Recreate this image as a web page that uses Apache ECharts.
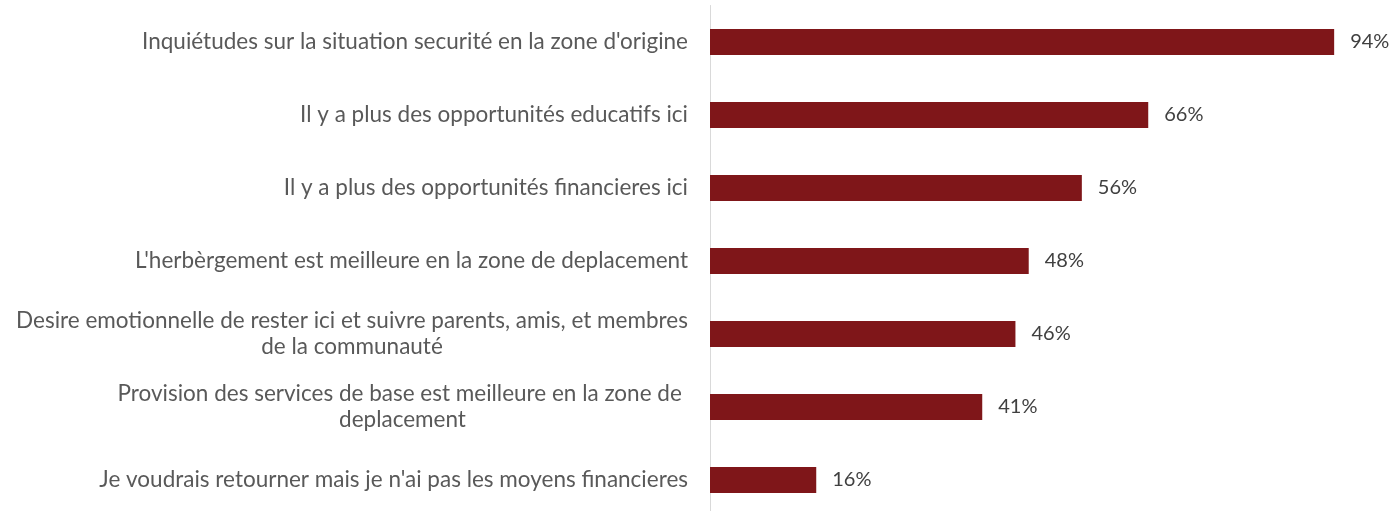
<!DOCTYPE html>
<html>
<head>
<meta charset="utf-8">
<script src="https://cdn.jsdelivr.net/npm/echarts@6/dist/echarts.min.js"></script>
<style>
  html, body { margin: 0; padding: 0; background: #fff; }
  #container { width: 1398px; height: 511px; }
</style>
</head>
<body>
<div id="container"></div>
<script>
// categories from top to bottom
var categories = [
    "Inquiétudes sur la situation securité en la zone d'origine",
    "Il y a plus des opportunités educatifs ici",
    "Il y a plus des opportunités financieres ici",
    "L'herbèrgement est meilleure en la zone de deplacement",
    "Desire emotionnelle de rester ici et suivre parents, amis, et membres\nde la communauté",
    "Provision des services de base est meilleure en la zone de \ndeplacement",
    "Je voudrais retourner mais je n'ai pas les moyens financieres"
];
var values = [94, 66, 56, 48, 46, 41, 16];

var dom = document.getElementById("container");
var myChart = echarts.init(dom);
var font = "Lato";
var labelSize = 22.5;

// measure text so two-line labels can be centred inside their block
var ctx = document.createElement('canvas').getContext('2d');
ctx.font = labelSize + 'px ' + font;

var rich = {};
var formatted = {};
categories.forEach(function (cat, i) {
    if (cat.indexOf("\n") < 0) return;
    var lines = cat.split("\n");
    var w = Math.max.apply(null, lines.map(function (l) { return ctx.measureText(l).width; }));
    var key = 'c' + i;
    rich[key] = {
        width: Math.ceil(w),
        align: 'center',
        color: '#595959',
        fontFamily: font,
        fontSize: labelSize,
        lineHeight: 26
    };
    formatted[cat] = lines.map(function (l) { return '{' + key + '|' + l + '}'; }).join("\n");
});

var option = {
    animation: false,
    grid: {
        left: 710,
        right: 24,
        top: 5.5,
        height: 511,
        outerBoundsMode: 'none'
    },
    xAxis: {
        type: 'value',
        min: 0,
        max: 100,
        show: false
    },
    yAxis: {
        type: 'category',
        inverse: true,
        data: categories,
        axisLine: { show: true, lineStyle: { color: '#d9d9d9', width: 1 } },
        axisTick: { show: false },
        axisLabel: {
            margin: 22,
            color: '#595959',
            fontFamily: font,
            fontSize: labelSize,
            lineHeight: 26,
            formatter: function (value) { return formatted[value] || value; },
            rich: rich
        }
    },
    series: [{
        type: 'bar',
        data: values,
        barWidth: 26,
        itemStyle: { color: '#7f1619' },
        label: {
            show: true,
            position: 'right',
            distance: 16,
            color: '#404040',
            fontFamily: font,
            fontSize: 20,
            formatter: '{c}%'
        }
    }]
};

myChart.setOption(option);
</script>
</body>
</html>
